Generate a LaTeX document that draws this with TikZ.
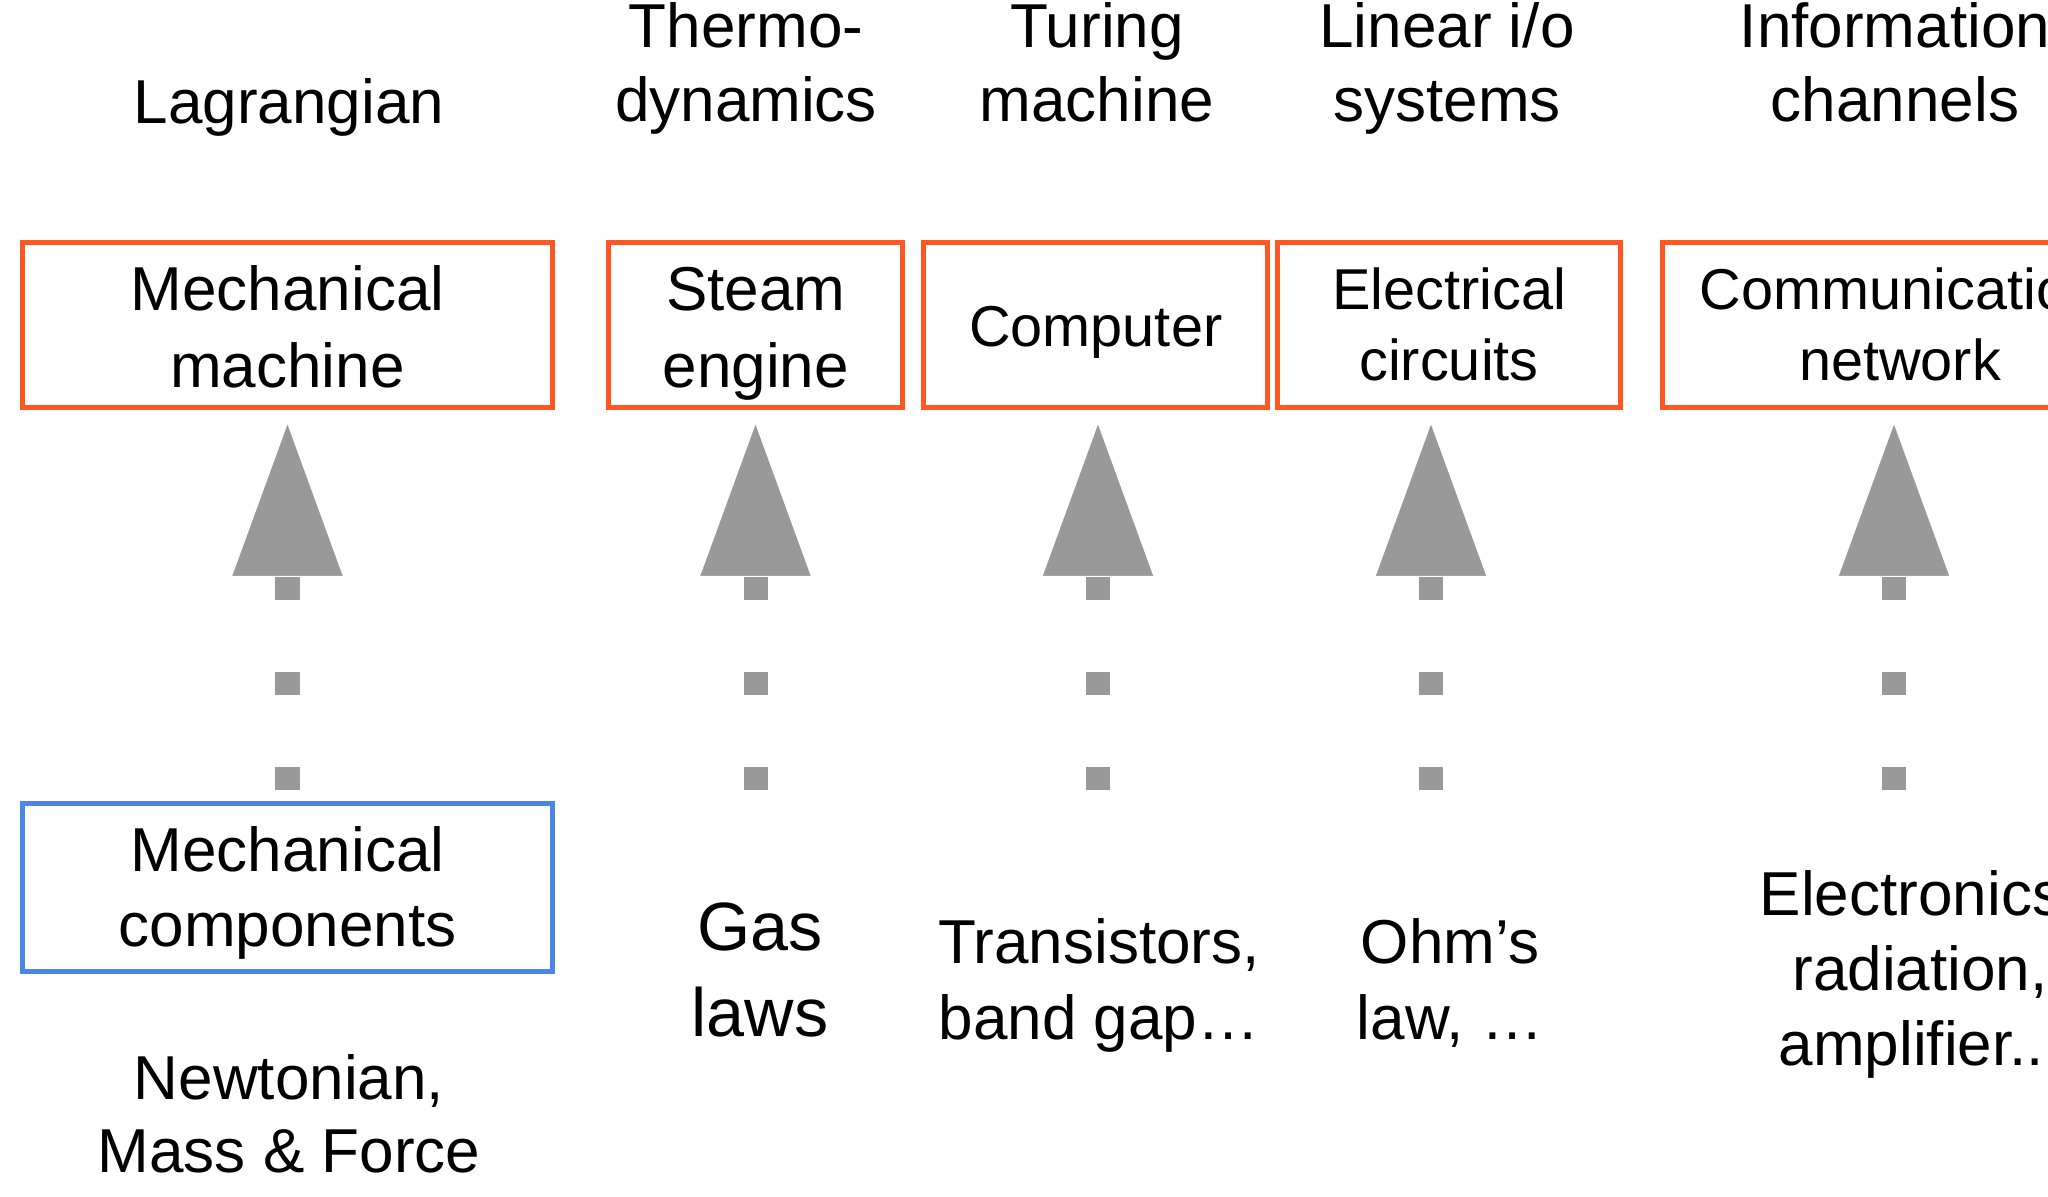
\documentclass[tikz,border=0pt]{standalone}
\usepackage{fontspec}
\setmainfont{Liberation Sans}
\usetikzlibrary{arrows.meta}
\definecolor{boxorange}{HTML}{FF5722}
\definecolor{boxblue}{HTML}{4A86E8}
\definecolor{arrowgray}{HTML}{999999}
\tikzset{
  frame/.style={draw=boxorange, line width=0.05cm, inner sep=0pt, minimum height=1.65cm, align=center},
  bframe/.style={frame, draw=boxblue, minimum height=1.67cm},
  boxtext/.style={execute at begin node={\rule{0pt}{#1}}, execute at end node={\rule[-0.2cm]{0pt}{0.2cm}}},
  freetext/.style={inner sep=0pt, align=center, execute at begin node={\rule{0pt}{0.8em}}, execute at end node={\rule[-0.8em]{0pt}{0.8em}}},
  fA/.style={font=\fontsize{17.64pt}{#1}\selectfont},
  fB/.style={font=\fontsize{16.39pt}{#1}\selectfont},
  fC/.style={font=\fontsize{19.43pt}{#1}\selectfont},
  link/.style={draw=arrowgray, line width=0.24cm, dash pattern=on 0.23cm off 0.72cm,
    -{Triangle[length=1.51cm,width=1.1cm,line width=0.1pt]}, shorten >=0.147cm}
}
\begin{document}
\begin{tikzpicture}[x=0.01cm, y=-0.01cm]
\useasboundingbox (0,0) rectangle (2048,1197);
\fill[white] (0,0) rectangle (2048,1197);
\clip (0,0) rectangle (2048,1197);

% top labels
\node[freetext, fA=20.91pt] (lag) at (289,124) {Lagrangian};
\node[freetext, fA=20.91pt] (thermo) at (746,87) {Thermo-\\dynamics};
\node[freetext, fA=20.91pt] (turing) at (1097,87) {Turing\\machine};
\node[freetext, fA=20.91pt] (linear) at (1447,87) {Linear i/o\\systems};
\node[freetext, fA=20.91pt] (info) at (1895,87) {Information\\channels};

% boxes
\node[frame, minimum width=5.30cm, boxtext=1.44cm, fA=21.71pt] (mm) at (287.5,325) {Mechanical\\machine};
\node[frame, minimum width=2.935cm, boxtext=1.44cm, fA=21.71pt] (se) at (755.75,325) {Steam\\engine};
\node[frame, minimum width=3.435cm, boxtext=0.62cm, fB=20.37pt] (co) at (1095.75,325) {Computer};
\node[frame, minimum width=3.43cm, boxtext=1.316cm, fB=20.37pt] (ec) at (1449,325) {Electrical\\circuits};
\node[frame, minimum width=4.75cm, boxtext=1.316cm, fB=20.37pt] (cn) at (1900,325) {Communication\\network};
\node[bframe, minimum width=5.30cm, boxtext=1.384cm, fA=21.34pt] (mc) at (287.5,887.5) {Mechanical\\components};

% bottom texts
\node[freetext, fA=20.86pt] (newton) at (289,1138.35) {Newtonian,\\Mass \& Force};
\node[freetext, fC=24.47pt] (gas) at (760,997) {Gas\\laws};
\node[freetext, fA=21.62pt] (trans) at (1099,1003.7) {Transistors,\\band gap…};
\node[freetext, fA=21.62pt] (ohm) at (1450,1003.7) {Ohm’s\\law, …};
\node[freetext, fA=21.34pt] (elec) at (1920,993) {Electronics,\\radiation,\\amplifier...};

% arrow start points
\coordinate (s2) at (755.5,790);
\coordinate (s3) at (1098,790);
\coordinate (s4) at (1431,790);
\coordinate (s5) at (1894,790);

% connectors
\draw[link, shorten <=0.115cm] (mc.north) -- (mm.south);
\draw[link] (s2) -- (s2 |- se.south);
\draw[link] (s3) -- (s3 |- co.south);
\draw[link] (s4) -- (s4 |- ec.south);
\draw[link] (s5) -- (s5 |- cn.south);
\end{tikzpicture}
\end{document}
